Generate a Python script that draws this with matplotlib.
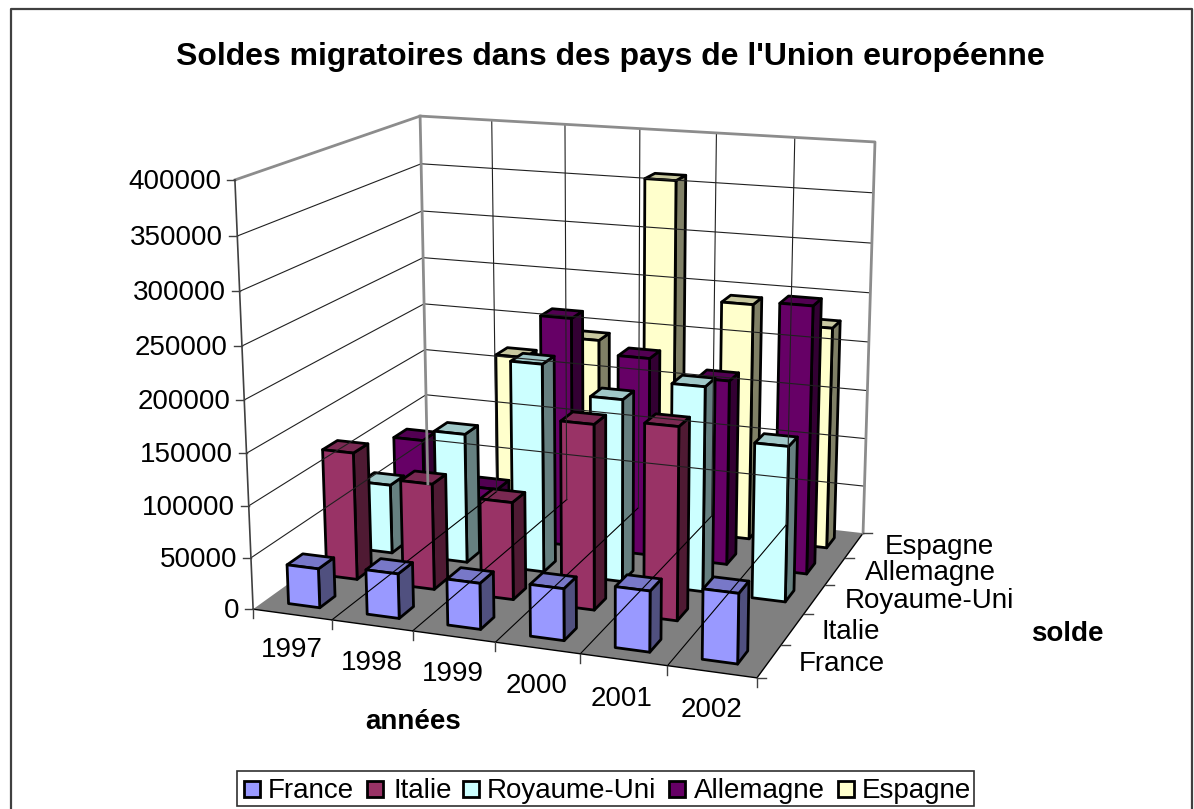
import numpy as np
import matplotlib
matplotlib.use('Agg')
from matplotlib import pyplot as plt
from matplotlib.patches import Polygon, Rectangle

plt.rcParams['font.family'] = ['Liberation Sans', 'DejaVu Sans']

# chart data
years = ['1997', '1998', '1999', '2000', '2001', '2002']
pays = ['France', 'Italie', 'Royaume-Uni', 'Allemagne', 'Espagne']
france = [38000, 43000, 44000, 49000, 57000, 65000]
italie = [126000, 104000, 95000, 178000, 184000, np.nan]
royaume_uni = [70000, 130000, 207000, 180000, 200000, 151000]
allemagne = [93000, 50000, 233000, 200000, 185000, 265000]
espagne = [50000, 167000, 192000, 360000, 242000, 225000]
series = [france, italie, royaume_uni, allemagne, espagne]
val_ticks = [0, 50000, 100000, 150000, 200000, 250000, 300000, 350000, 400000]
val_max = 400000

# face colours: front, side, top
front = ['#9999FF', '#993366', '#CCFFFF', '#660066', '#FFFFCC']
side = ['#50507F', '#4F1A33', '#668080', '#330033', '#808066']
top = ['#7878C8', '#7A2952', '#A0C8C8', '#520052', '#C8C8A0']

# the 3d box seen in the picture, fitted as a camera matrix
box = [(0, 0, 0), (0, 0, 1), (1, 0, 0), (1, 1, 0), (1, 1, 1), (0, 1, 0), (0, 1, 1)]
screen = [(253, 609), (235, 180), (757, 678), (863, 533), (875, 142), (428, 484), (420, 116)]
rows = []
rhs = []
for (X, Y, Z), (u, v) in zip(box, screen):
    rows.append([X, Y, Z, 1, 0, 0, 0, 0, -u * X, -u * Y, -u * Z])
    rows.append([0, 0, 0, 0, X, Y, Z, 1, -v * X, -v * Y, -v * Z])
    rhs += [u, v]
cam = np.append(np.linalg.lstsq(np.array(rows), np.array(rhs, float), rcond=None)[0], 1).reshape(3, 4)


def proj(year, row, val):
    p = cam @ np.array([year / len(years), row / len(pays), val / val_max, 1])
    return p[0] / p[2], p[1] / p[2]


fig = plt.figure(figsize=(11.94, 8.09), dpi=100)
ax = fig.add_axes([0, 0, 1, 1])
ax.set_xlim(0, 1194)
ax.set_ylim(809, 0)
ax.axis('off')

# outer frame
ax.plot([11, 11, 1192, 1192], [809, 9, 9, 809], color='#404040', lw=1.6)

ny = len(years)
ns = len(pays)

# floor
ax.add_patch(Polygon([proj(0, 0, 0), proj(ny, 0, 0), proj(ny, ns, 0), proj(0, ns, 0)],
                     fc='#808080', ec='none'))
ax.plot(*zip(proj(0, 0, 0), proj(ny, 0, 0), proj(ny, ns, 0)), color='black', lw=1.0)
for i in range(1, ny):
    ax.plot(*zip(proj(i, 0, 0), proj(i, ns, 0)), color='black', lw=0.8)

# grid on walls
for v in val_ticks[1:-1]:
    ax.plot(*zip(proj(0, 0, v), proj(0, ns, v), proj(ny, ns, v)), color='#202020', lw=0.8)
for i in range(1, ny):
    ax.plot(*zip(proj(i, ns, 0), proj(i, ns, val_max)), color='#202020', lw=0.8)
ax.plot(*zip(proj(0, 0, val_max), proj(0, ns, val_max), proj(ny, ns, val_max), proj(ny, ns, 0)),
        color='#8c8c8c', lw=2.0)
ax.plot(*zip(proj(0, ns, val_max), proj(0, ns, 0)), color='#8c8c8c', lw=2.0)
ax.plot(*zip(proj(0, 0, 0), proj(0, 0, val_max)), color='#404040', lw=1.2)

# value axis
for v in val_ticks:
    x, y = proj(0, 0, v)
    ax.plot([x - 8, x], [y, y], color='#404040', lw=1.0)
    ax.text(x - 14, y + 2, str(v), ha='right', va='center', fontsize=20, color='black')

# year axis
year_pos = [(292, 650), (372, 663), (453, 674), (537, 686), (622, 699), (711, 710)]
for i in range(ny + 1):
    x, y = proj(i, 0, 0)
    ax.plot([x, x], [y, y + 9], color='#404040', lw=1.0)
for name, (x, y) in zip(years, year_pos):
    ax.text(x, y, name, ha='center', va='center', fontsize=20, color='black')

# series axis
pays_pos = [(842, 664), (851, 632), (929, 601), (930, 573), (939, 547)]
for i in range(ns + 1):
    x, y = proj(ny, i, 0)
    ax.plot([x, x + 9], [y, y], color='#404040', lw=1.0)
for name, (x, y) in zip(pays, pays_pos):
    ax.text(x, y, name, ha='center', va='center', fontsize=20, color='black')

# bars, back row first
w0, w1 = 0.3, 0.7
for s in range(ns - 1, -1, -1):
    for i in range(ny):
        val = series[s][i]
        if np.isnan(val):
            continue
        x0, x1 = i + w0, i + w1
        y0, y1 = s + w0, s + w1
        ax.add_patch(Polygon([proj(x1, y0, 0), proj(x1, y1, 0), proj(x1, y1, val), proj(x1, y0, val)],
                             fc=side[s], ec='black', lw=2.0, joinstyle='round'))
        ax.add_patch(Polygon([proj(x0, y0, val), proj(x1, y0, val), proj(x1, y1, val), proj(x0, y1, val)],
                             fc=top[s], ec='black', lw=2.0, joinstyle='round'))
        ax.add_patch(Polygon([proj(x0, y0, 0), proj(x1, y0, 0), proj(x1, y0, val), proj(x0, y0, val)],
                             fc=front[s], ec='black', lw=2.0, joinstyle='round'))

# titles
ax.text(610, 57, "Soldes migratoires dans des pays de l'Union européenne",
        ha='center', va='center', fontsize=23, fontweight='bold')
ax.text(413, 722, 'années', ha='center', va='center', fontsize=20, fontweight='bold')
ax.text(1067, 634, 'solde', ha='center', va='center', fontsize=20, fontweight='bold')

# legend
ax.add_patch(Rectangle((237, 771), 737, 35, fc='white', ec='#303030', lw=1.2))
swatch_x = [244, 367, 463, 669, 838]
label_x = [268, 393, 487, 694, 862]
for s in range(ns):
    ax.add_patch(Rectangle((swatch_x[s], 781), 16, 16, fc=front[s], ec='black', lw=2.0))
    ax.text(label_x[s], 791, pays[s], ha='left', va='center', fontsize=20)

fig.savefig('out.png', dpi=100)
